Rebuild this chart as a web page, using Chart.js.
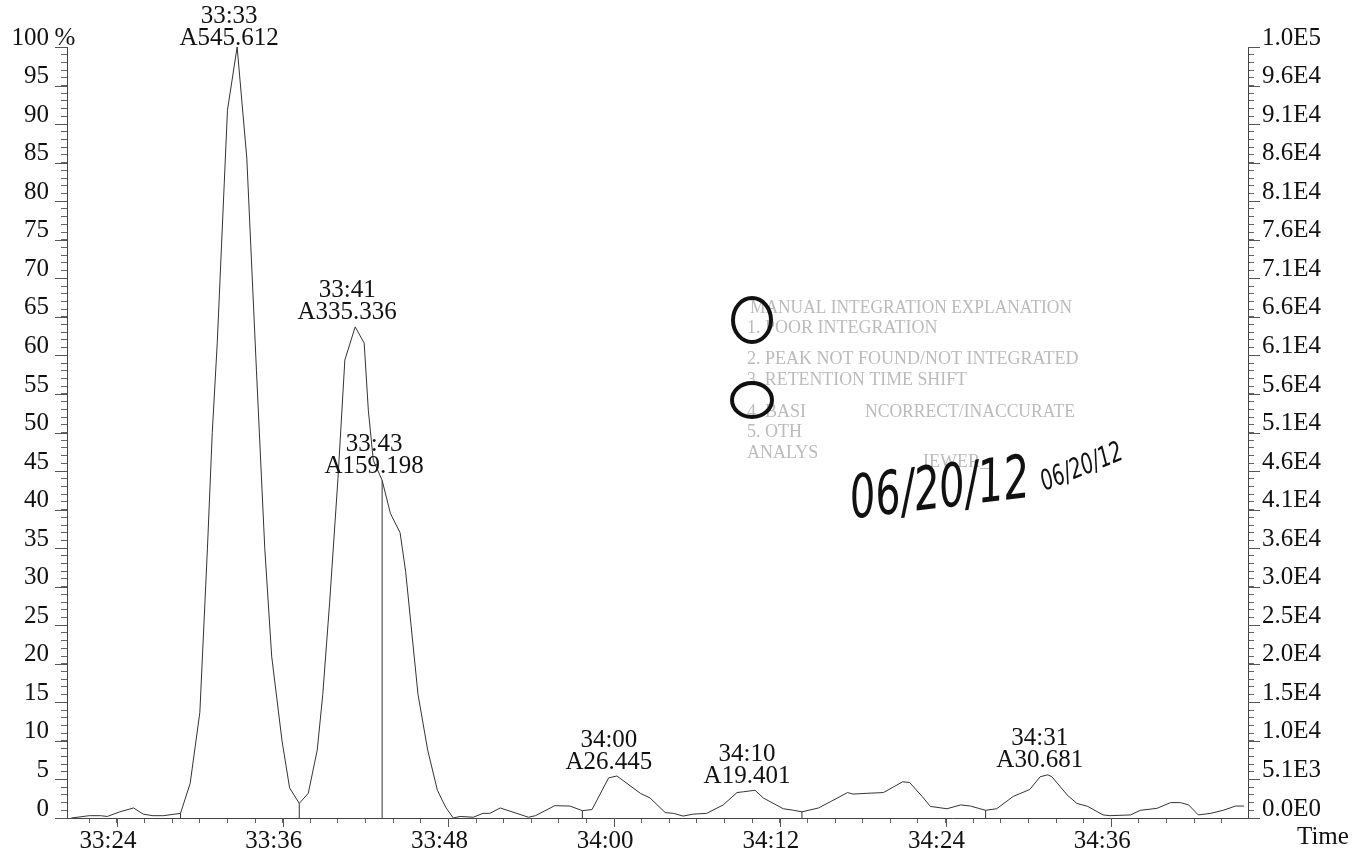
<!DOCTYPE html>
<html>
<head>
<meta charset="utf-8">
<script src="https://cdn.jsdelivr.net/npm/chart.js@4.4.1/dist/chart.umd.min.js"></script>
<style>
  html, body { margin: 0; padding: 0; background: #fff; }
  #wrap { width: 1369px; height: 852px; }
</style>
</head>
<body>
<div id="wrap"><canvas id="chrom" width="1369" height="852"></canvas></div>
<script>
// retention time in seconds past 33:00, intensity in % of full scale
var times = [20.7, 22.0, 22.8, 23.3, 24.2, 25.2, 25.9, 26.6, 27.35, 28.6,
    29.3, 30.0, 30.55, 30.9, 31.26, 32.0, 32.7, 33.4, 34.1, 34.7,
    35.2, 35.95, 36.5, 37.2, 37.85, 38.5, 38.9, 39.4, 40.0, 40.5,
    41.25, 41.9, 42.2, 42.56, 43.2, 43.8, 44.5, 44.9, 45.8, 46.5,
    47.2, 47.8, 48.35, 48.85, 49.8, 50.5, 51.0, 51.75, 53.8, 54.3,
    55.7, 56.8, 57.7, 58.4, 59.6, 60.2, 61.9, 62.6, 63.7, 64.3,
    65.0, 65.7, 66.7, 67.9, 68.9, 69.35, 70.2, 70.8, 72.25, 73.0,
    73.6, 74.8, 75.65, 76.9, 77.3, 78.3, 79.5, 80.2, 80.9, 81.4,
    82.3, 82.9, 84.1, 85.1, 85.8, 86.9, 87.7, 88.9, 90.1, 90.85,
    91.4, 91.7, 92.8, 93.5, 94.3, 95.4, 95.9, 97.4, 98.1, 99.3,
    100.3, 101.0, 101.6, 102.3, 103.2, 104.1, 105.0, 105.6];
var intensity = [0.0, 0.3, 0.3, 0.2, 0.8, 1.3, 0.5, 0.3, 0.3, 0.6,
    4.5, 13.7, 35, 50, 61.6, 91.8, 100, 85.6, 58, 35,
    21, 10, 3.9, 1.9, 3.2, 8.8, 16, 28, 44, 59.4,
    63.7, 61.6, 52.9, 46.4, 43.8, 39.5, 37, 32, 16, 8.8,
    3.6, 1.4, 0.0, 0.2, 0.1, 0.6, 0.6, 1.3, 0.1, 0.3,
    1.6, 1.55, 0.95, 1.1, 5.2, 5.45, 3.2, 2.6, 0.7, 0.6,
    0.25, 0.5, 0.6, 1.7, 3.3, 3.4, 3.6, 2.6, 1.2, 1.0,
    0.8, 1.3, 2.1, 3.3, 3.1, 3.2, 3.3, 4.0, 4.7, 4.6,
    2.8, 1.5, 1.2, 1.7, 1.55, 1.0, 1.2, 2.8, 3.7, 5.35,
    5.6, 5.35, 3.0, 1.9, 1.5, 0.4, 0.3, 0.4, 1.0, 1.25,
    2.0, 2.0, 1.7, 0.4, 0.6, 1.0, 1.55, 1.55];

// integrated peaks
var peakTimes = [32.7, 41.25, 43.2, 60.2, 70.2, 91.4];
var peakHeights = [100, 63.7, 43.8, 5.45, 3.6, 5.6];
var peakNames = ['33:33', '33:41', '33:43', '34:00', '34:10', '34:31'];
var peakAreas = ['A545.612', 'A335.336', 'A159.198', 'A26.445', 'A19.401', 'A30.681'];

// peak start/end drop lines
var dropTimes = [28.6, 37.2, 43.2, 57.7, 73.6, 86.9];
var dropHeights = [0.6, 1.9, 43.8, 0.95, 0.8, 1.0];

var rightLabels = ['0.0E0', '5.1E3', '1.0E4', '1.5E4', '2.0E4', '2.5E4', '3.0E4',
    '3.6E4', '4.1E4', '4.6E4', '5.1E4', '5.6E4', '6.1E4', '6.6E4', '7.1E4',
    '7.6E4', '8.1E4', '8.6E4', '9.1E4', '9.6E4', '1.0E5'];

var trace = times.map(function (t, i) { return {x: t, y: intensity[i]}; });
var drops = [];
dropTimes.forEach(function (t, i) {
    drops.push({x: t, y: 0}, {x: t, y: dropHeights[i]}, {x: t, y: null});
});

function mmss(v) {
    var total = 33 * 60 + v;
    var m = Math.floor(total / 60), s = total - m * 60;
    return m + ':' + (s < 10 ? '0' : '') + s;
}

var serif = '"Liberation Serif", "Times New Roman", serif';
var tickFont = {family: serif, size: 25};

var decor = {
    id: 'decor',
    afterDraw: function (chart) {
        var ctx = chart.ctx;
        var x = chart.scales.x, yl = chart.scales.y, yr = chart.scales.y2;
        ctx.save();

        // longer marks on labelled ticks
        ctx.strokeStyle = '#555';
        ctx.lineWidth = 1;
        ctx.beginPath();
        yl.ticks.forEach(function (t) {
            if (t.value % 5 !== 0) return;
            var py = Math.round(yl.getPixelForValue(t.value)) + 0.5;
            ctx.moveTo(yl.right - 12, py); ctx.lineTo(yl.right, py);
            ctx.moveTo(yr.left, py); ctx.lineTo(yr.left + 12, py);
        });
        x.ticks.forEach(function (t) {
            if ((t.value - 24) % 12 !== 0) return;
            var px = Math.round(x.getPixelForValue(t.value)) + 0.5;
            ctx.moveTo(px, x.top); ctx.lineTo(px, x.top + 9);
        });
        ctx.stroke();

        // peak labels
        ctx.fillStyle = '#111';
        ctx.font = '25px ' + serif;
        ctx.textAlign = 'center';
        ctx.textBaseline = 'middle';
        peakTimes.forEach(function (t, i) {
            var px = x.getPixelForValue(t) - 8;
            var py = Math.max(yl.getPixelForValue(peakHeights[i]) - 14, 38);
            ctx.fillText(peakAreas[i], px, py);
            ctx.fillText(peakNames[i], px, py - 22);
        });

        ctx.fillText('%', 65, 38);
        ctx.textAlign = 'left';
        ctx.fillText('Time', 1297, 837);

        // faded review stamp
        ctx.fillStyle = '#bbbbbb';
        ctx.font = '18px ' + serif;
        ctx.fillText('MANUAL INTEGRATION EXPLANATION', 750, 308, 322);
        ctx.fillText('1. POOR INTEGRATION', 747, 328, 193);
        ctx.fillText('2. PEAK NOT FOUND/NOT INTEGRATED', 747, 359, 338);
        ctx.fillText('3. RETENTION TIME SHIFT', 747, 380, 220);
        ctx.fillText('4. BASI', 747, 412);
        ctx.fillText('NCORRECT/INACCURATE', 865, 412, 210);
        ctx.fillText('5. OTH', 747, 432);
        ctx.fillText('ANALYS', 747, 453);
        ctx.fillText('IEWER_', 923, 462);

        // hand marks
        ctx.strokeStyle = '#111';
        ctx.lineWidth = 4;
        ctx.beginPath();
        ctx.ellipse(752, 320, 19, 22, 0, 0, Math.PI * 2);
        ctx.stroke();
        ctx.beginPath();
        ctx.ellipse(752, 400, 20, 17, 0, 0, Math.PI * 2);
        ctx.stroke();

        ctx.fillStyle = '#111';
        ctx.textAlign = 'center';
        ctx.save();
        ctx.translate(940, 492);
        ctx.rotate(-0.12);
        ctx.font = 'italic 60px "DejaVu Sans"';
        ctx.fillText('06/20/12', 0, 0, 180);
        ctx.restore();
        ctx.save();
        ctx.translate(1082, 468);
        ctx.rotate(-0.38);
        ctx.font = 'italic 28px "DejaVu Sans"';
        ctx.fillText('06/20/12', 0, 0, 86);
        ctx.restore();

        ctx.restore();
    }
};

new Chart(document.getElementById('chrom'), {
    type: 'line',
    data: {
        datasets: [
            {
                data: trace,
                borderColor: '#333',
                borderWidth: 1,
                pointRadius: 0,
                tension: 0,
                yAxisID: 'y'
            },
            {
                data: drops,
                borderColor: '#333',
                borderWidth: 1,
                pointRadius: 0,
                spanGaps: false,
                yAxisID: 'y'
            }
        ]
    },
    options: {
        responsive: false,
        animation: false,
        events: [],
        layout: {padding: {top: 47, left: 0, right: 0, bottom: 0}},
        plugins: {
            legend: {display: false},
            tooltip: {enabled: false}
        },
        scales: {
            x: {
                type: 'linear',
                position: 'bottom',
                min: 20.38,
                max: 105.9,
                afterFit: function (s) { s.height = 34; },
                grid: {drawOnChartArea: false, tickLength: 5, color: '#666'},
                border: {color: '#444'},
                ticks: {
                    stepSize: 2,
                    includeBounds: false,
                    autoSkip: false,
                    maxRotation: 0,
                    padding: 3,
                    labelOffset: -9,
                    font: tickFont,
                    color: '#111',
                    callback: function (v) { return (v - 24) % 12 === 0 ? mmss(v) : ''; }
                }
            },
            y: {
                position: 'left',
                min: 0,
                max: 100,
                afterFit: function (s) { s.width = 67; },
                grid: {drawOnChartArea: false, tickLength: 6, color: '#666'},
                border: {color: '#444'},
                ticks: {
                    stepSize: 1,
                    autoSkip: false,
                    padding: 12,
                    labelOffset: -9,
                    font: tickFont,
                    color: '#111',
                    callback: function (v) { return v % 5 === 0 ? String(v) : ''; }
                }
            },
            y2: {
                position: 'right',
                min: 0,
                max: 100,
                afterFit: function (s) { s.width = 121; },
                grid: {drawOnChartArea: false, tickLength: 6, color: '#666'},
                border: {color: '#444'},
                ticks: {
                    stepSize: 1,
                    autoSkip: false,
                    padding: 8,
                    labelOffset: -9,
                    font: tickFont,
                    color: '#111',
                    callback: function (v) { return v % 5 === 0 ? rightLabels[v / 5] : ''; }
                }
            }
        }
    },
    plugins: [decor]
});
</script>
</body>
</html>
